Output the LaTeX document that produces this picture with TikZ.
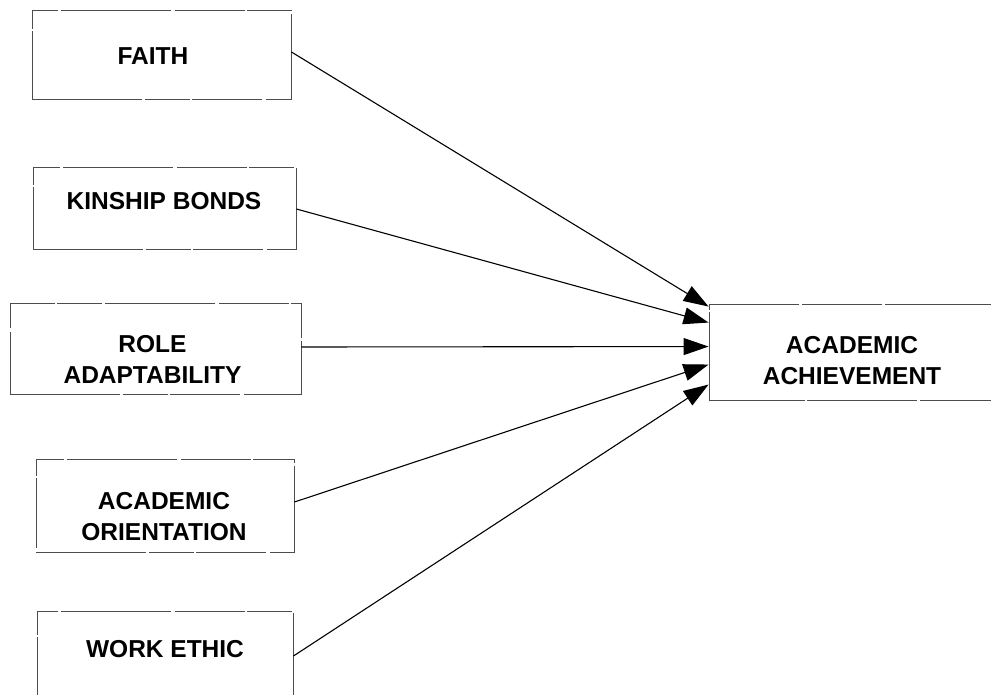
\documentclass[tikz,border=0pt]{standalone}
\usepackage{fontspec}
\setmainfont{Liberation Sans}
\usetikzlibrary{arrows.meta}
\begin{document}
\begin{tikzpicture}[x=1pt,y=-1pt,
  box/.style={draw=black!70, line width=0.9pt, rectangle, inner sep=0pt,
    dash pattern=on 110pt off 3pt on 45pt off 2pt on 70pt off 4pt},
  txt/.style={font=\fontsize{24.5}{31}\selectfont\bfseries, align=center, inner sep=0pt},
  link/.style={line width=1.1pt, -{Triangle[length=25pt,width=17pt]}}]
\useasboundingbox (0,0) rectangle (991,695);
% boxes (centre, width, height)
\node[box, minimum width=259pt, minimum height=89pt] (faith) at (161.5,54.5) {};
\node[box, minimum width=263pt, minimum height=82pt] (kin) at (164.5,208) {};
\node[box, minimum width=291pt, minimum height=91pt] (role) at (155.5,348.5) {};
\node[box, minimum width=258pt, minimum height=93pt] (orient) at (165,505.5) {};
\node[box, minimum width=256pt, minimum height=90pt] (work) at (165,656) {};
\node[box, minimum width=291pt, minimum height=96pt, dash pattern=on 96pt off 2pt on 110pt off 3pt on 80pt off 3pt] (ach) at (854.5,352) {};
% texts
\node[txt] (faithT) at (153,56) {FAITH};
\node[txt] (kinT) at (164,201) {KINSHIP BONDS};
\node[txt] (roleT) at (152.5,359) {ROLE\\ADAPTABILITY};
\node[txt] (orientT) at (164,516.5) {ACADEMIC\\ORIENTATION};
\node[txt] (workT) at (165,649) {WORK ETHIC};
\node[txt] (achT) at (852,361) {ACADEMIC\\ACHIEVEMENT};
% arrow targets on the west side of the outcome box
\coordinate (e1) at ([yshift=-3pt]ach.north west);
\coordinate (e2) at ([yshift=-19pt]ach.north west);
\coordinate (e3) at ([yshift=-43pt]ach.north west);
\coordinate (e4) at ([yshift=-61pt]ach.north west);
\coordinate (e5) at ([yshift=-81pt]ach.north west);
\draw[link] ([yshift=2.5pt]faith.east) -- (e1);
\draw[link] ([yshift=-1pt]kin.east) -- (e2);
\draw[link] ([yshift=1.5pt]role.east) -- (e3);
\draw[link] ([yshift=3.5pt]orient.east) -- (e4);
\draw[link] (work.east) -- (e5);
\end{tikzpicture}
\end{document}
